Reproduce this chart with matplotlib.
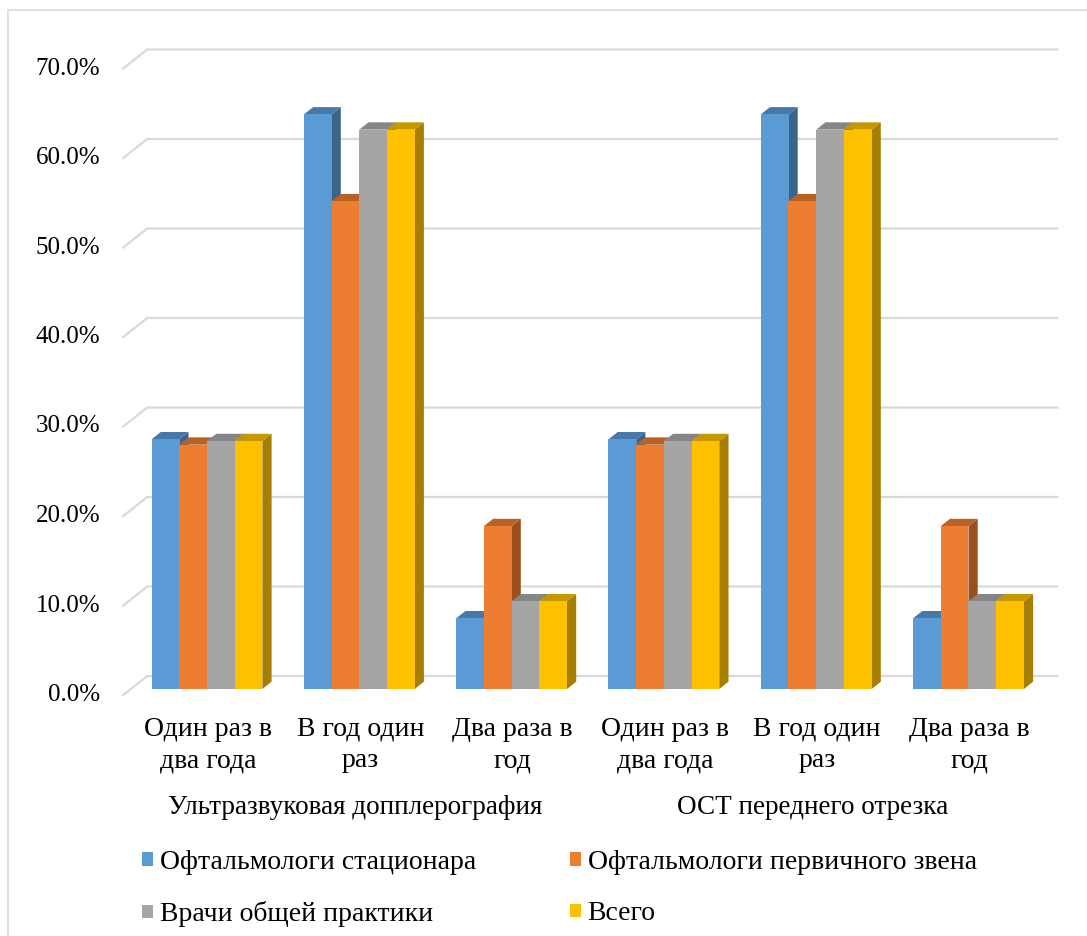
import matplotlib
matplotlib.use("Agg")
import matplotlib.pyplot as plt
from matplotlib.patches import Polygon, Rectangle, Patch

# ---- data -------------------------------------------------------------
categories = ["Один раз в\nдва года", "В год один\nраз", "Два раза в\nгод",
              "Один раз в\nдва года", "В год один\nраз", "Два раза в\nгод"]
groups = ["Ультразвуковая допплерография", "ОСТ переднего отрезка"]
series_names = ["Офтальмологи стационара", "Офтальмологи первичного звена",
                "Врачи общей практики", "Всего"]
hospital = [27.9, 64.2, 7.9, 27.9, 64.2, 7.9]
primary = [27.3, 54.5, 18.2, 27.3, 54.5, 18.2]
general = [27.7, 62.5, 9.8, 27.7, 62.5, 9.8]
total = [27.7, 62.5, 9.8, 27.7, 62.5, 9.8]
y_ticks = [0, 10, 20, 30, 40, 50, 60, 70]
y_tick_labels = ["0.0%", "10.0%", "20.0%", "30.0%", "40.0%", "50.0%", "60.0%", "70.0%"]

# front, top, side shades for each series
front_colors = ["#5B9BD5", "#ED7D31", "#A5A5A5", "#FFC000"]
top_colors = ["#4679AA", "#BA6124", "#868686", "#C79700"]
side_colors = ["#3A6489", "#9B4F1D", "#7B7B7B", "#A67E00"]

FONT = "Liberation Serif"
plt.rcParams["font.family"] = [FONT, "DejaVu Serif"]

# ---- pixel geometry of the oblique projection ---------------------------
W, H = 1087, 936
X0_PX, CAT_PX = 207.0, 152.3      # first category centre, category pitch
BASE_PX, PCT_PX = 689.0, 8.95     # zero level of the bar front plane, px per %

def dx(px):
    return px / CAT_PX

def dv(px):
    return px / PCT_PX

fig = plt.figure(figsize=(W / 100, H / 100), dpi=100)
ax = fig.add_axes([0, 0, 1, 1])
ax.set_xlim((0 - X0_PX) / CAT_PX, (W - X0_PX) / CAT_PX)
ax.set_ylim((BASE_PX - H) / PCT_PX, BASE_PX / PCT_PX)
ax.axis("off")

# depth offsets (front plane of the bars -> floor front / back wall)
FX, FY = dx(-7.6), dv(-6.0)
BX, BY = dx(16.4), dv(13.0)
# depth of each bar
DX, DY = dx(9.2), dv(7.3)

left_edge, right_edge = -0.5, len(categories) - 0.5
grid_color = "#D9D9D9"

# gridlines: a short slanted piece on the side wall plus the back wall line
for v, lab in zip(y_ticks, y_tick_labels):
    ax.plot([left_edge + FX, left_edge + BX, right_edge + BX - dx(4)],
            [v + FY, v + BY, v + BY], color=grid_color, lw=1.6,
            solid_joinstyle="miter", zorder=1)
    ax.text(left_edge + FX - dx(23), v + FY, lab, ha="right", va="center",
            fontsize=18, color="#000000", family=FONT)

# bars
bar_w = 27.7 / CAT_PX
all_series = [hospital, primary, general, total]
n = len(all_series)
z = 2
for ci in range(len(categories)):
    for si, vals in enumerate(all_series):
        v = vals[ci]
        x0 = ci + (si - n / 2) * bar_w
        x1 = x0 + bar_w
        side = Polygon([(x1, 0), (x1 + DX, DY), (x1 + DX, v + DY), (x1, v)],
                       closed=True, facecolor=side_colors[si], edgecolor="none", zorder=z)
        top = Polygon([(x0, v), (x1, v), (x1 + DX, v + DY), (x0 + DX, v + DY)],
                      closed=True, facecolor=top_colors[si], edgecolor="none", zorder=z)
        ax.add_patch(side)
        ax.add_patch(top)
        ax.bar(x0, v, width=bar_w, align="edge", color=front_colors[si],
               edgecolor="none", zorder=z + 0.5)
        z += 1

# category labels
for ci, lab in enumerate(categories):
    ax.text(ci + dx(1), dv(BASE_PX - 745), lab, ha="center", va="center",
            fontsize=20, linespacing=1.33, family=FONT)

# group labels
for gi, g in enumerate(groups):
    ax.text(gi * 3 + 1 + dx(-4), dv(BASE_PX - 807), g, ha="center", va="center",
            fontsize=19.5, family=FONT)

# legend, filled row by row
order = [0, 2, 1, 3]
handles = [Patch(facecolor=front_colors[i], edgecolor="none") for i in order]
labels = [series_names[i] for i in order]
fig.legend(handles, labels, loc="upper left",
           bbox_to_anchor=(142 / W, 1 - 850 / H), ncol=2, frameon=False,
           handlelength=0.38, handleheight=0.38, handletextpad=0.25,
           columnspacing=3.4, labelspacing=0.95, borderpad=0, borderaxespad=0,
           prop={"family": FONT, "size": 20})

# chart border
fig.patches.append(Rectangle((8 / W, -0.05), 1.1, 1 - 10 / H + 0.05,
                             transform=fig.transFigure, fill=False,
                             edgecolor="#D9D9D9", lw=1.2))

fig.savefig("out.png", dpi=100, facecolor="white")
